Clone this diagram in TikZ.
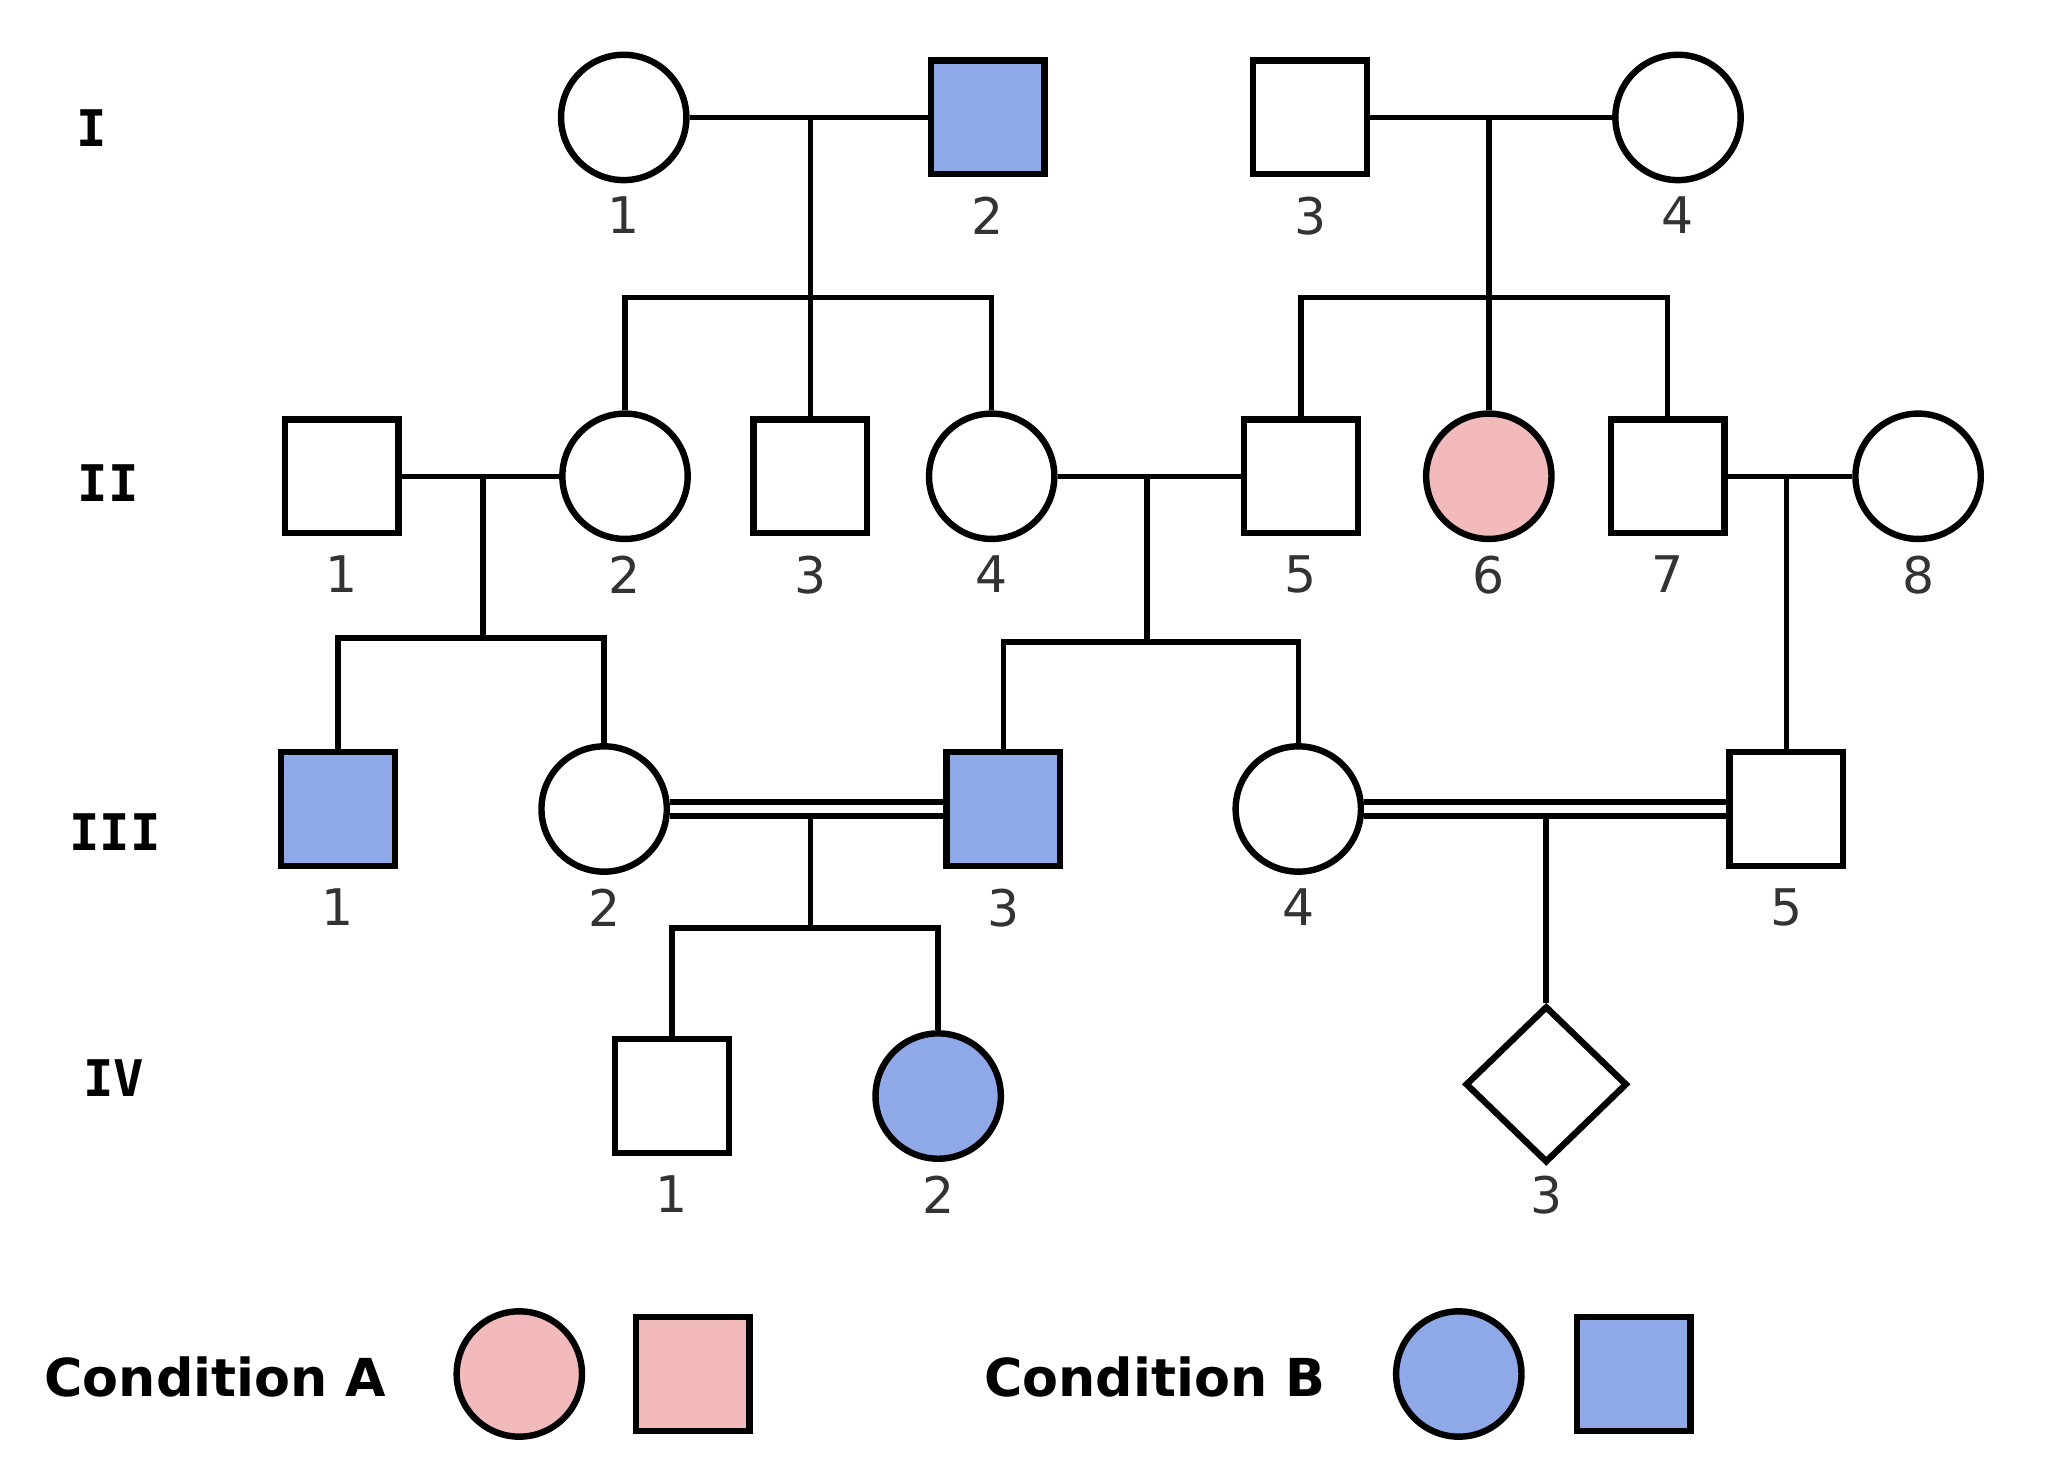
\documentclass[tikz,border=0pt]{standalone}
\usepackage{fontspec}
\setmainfont{DejaVu Sans}
\newfontfamily\genfont{DejaVu Sans Mono}
\usepackage{xcolor}
\definecolor{colorCondA}{RGB}{242,186,186}
\definecolor{colorCondB}{RGB}{143,168,232}
\colorlet{colorNumber}{black!80}
\usepackage{tikz}
\usetikzlibrary{shapes.geometric}
\tikzset{
  every label/.style={font=\fontsize{11}{13}\selectfont, text=colorNumber, inner sep=0pt},
  fnum/.style={yshift=-0.085cm},
  mnum/.style={yshift=-0.13cm},
  dnum/.style={yshift=-0.06cm},
  person/.style={draw, line width=1.4pt, inner sep=0pt, fill=white},
  female/.style={person, circle, minimum size=0.96cm},
  male/.style={person, rectangle, minimum size=0.87cm},
  unknown/.style={person, diamond, minimum width=1.24cm, minimum height=1.2cm},
  condA/.style={fill=colorCondA},
  condB/.style={fill=colorCondB},
  generation/.style={font=\genfont\bfseries\fontsize{11}{13}\selectfont},
  legend/.style={font=\bfseries\fontsize{11.4}{14}\selectfont},
  consang/.style={double, double distance=0.055cm, line width=1.3pt},
}

\begin{document}
\begin{tikzpicture}[x=0.01cm, y=-0.01cm, line width=1.2pt]
\useasboundingbox (0,0) rectangle (1568,1133);
% generation numbers
\node[generation] (genI) at (70,98) {I};
\node[generation] (genII) at (83,370) {II};
\node[generation] (genIII) at (88,638) {III};
\node[generation] (genIV) at (87,826) {IV};
% generation I
\node[female, label={[fnum]below:1}] (i1) at (478,90) {};
\node[male, condB, label={[mnum]below:2}] (i2) at (757,90) {};
\node[male, label={[mnum]below:3}] (i3) at (1004,90) {};
\node[female, label={[fnum]below:4}] (i4) at (1286,90) {};
% generation II
\node[male, label={[mnum]below:1}] (ii1) at (262,365) {};
\node[female, label={[fnum]below:2}] (ii2) at (479,365) {};
\node[male, label={[mnum]below:3}] (ii3) at (621,365) {};
\node[female, label={[fnum]below:4}] (ii4) at (760,365) {};
\node[male, label={[mnum]below:5}] (ii5) at (997,365) {};
\node[female, condA, label={[fnum]below:6}] (ii6) at (1141,365) {};
\node[male, label={[mnum]below:7}] (ii7) at (1278,365) {};
\node[female, label={[fnum]below:8}] (ii8) at (1470,365) {};
% generation III
\node[male, condB, label={[mnum]below:1}] (iii1) at (259,620) {};
\node[female, label={[fnum]below:2}] (iii2) at (463,620) {};
\node[male, condB, label={[mnum]below:3}] (iii3) at (769,620) {};
\node[female, label={[fnum]below:4}] (iii4) at (995,620) {};
\node[male, label={[mnum]below:5}] (iii5) at (1369,620) {};
% generation IV
\node[male, label={[mnum]below:1}] (iv1) at (515,840) {};
\node[female, condB, label={[fnum]below:2}] (iv2) at (719,840) {};
\node[unknown, label={[dnum]below:3}] (iv3) at (1185,831) {};
% unions and sibships
\coordinate (u12) at (621,90);
\coordinate (u34) at (1141,90);
\coordinate (s12) at (621,228);
\coordinate (s34) at (1141,228);
\coordinate (uii12) at (370,365);
\coordinate (sii12) at (370,489);
\coordinate (uii45) at (879,365);
\coordinate (sii45) at (879,492);
\coordinate (uii78) at (1369,365);
\coordinate (uiii23) at (621,625);
\coordinate (siii23) at (621,711);
\coordinate (uiii45) at (1185,625);
\draw (i1) -- (i2);
\draw (i3) -- (i4);
\draw (u12) -- (ii3);
\draw (u34) -- (ii6);
\draw (s12) -| (ii2);
\draw (s12) -| (ii4);
\draw (s34) -| (ii5);
\draw (s34) -| (ii7);
\draw (ii1) -- (ii2);
\draw (ii4) -- (ii5);
\draw (ii7) -- (ii8);
\draw (uii12) -- (sii12);
\draw (sii12) -| (iii1);
\draw (sii12) -| (iii2);
\draw (uii45) -- (sii45);
\draw (sii45) -| (iii3);
\draw (sii45) -| (iii4);
\draw (uii78) -- (iii5);
\draw[consang] (iii2) -- (iii3);
\draw[consang] (iii4) -- (iii5);
\draw (uiii23) -- (siii23);
\draw (siii23) -| (iv1);
\draw (siii23) -| (iv2);
\draw (uiii45) -- (iv3);
% legend
\node[legend] (legA) at (165,1055) {Condition A};
\node[female, condA] (legAf) at (398,1053) {};
\node[male, condA] (legAm) at (531,1053) {};
\node[legend] (legB) at (885,1055) {Condition B};
\node[female, condB] (legBf) at (1118,1053) {};
\node[male, condB] (legBm) at (1252,1053) {};
\end{tikzpicture}
\end{document}
